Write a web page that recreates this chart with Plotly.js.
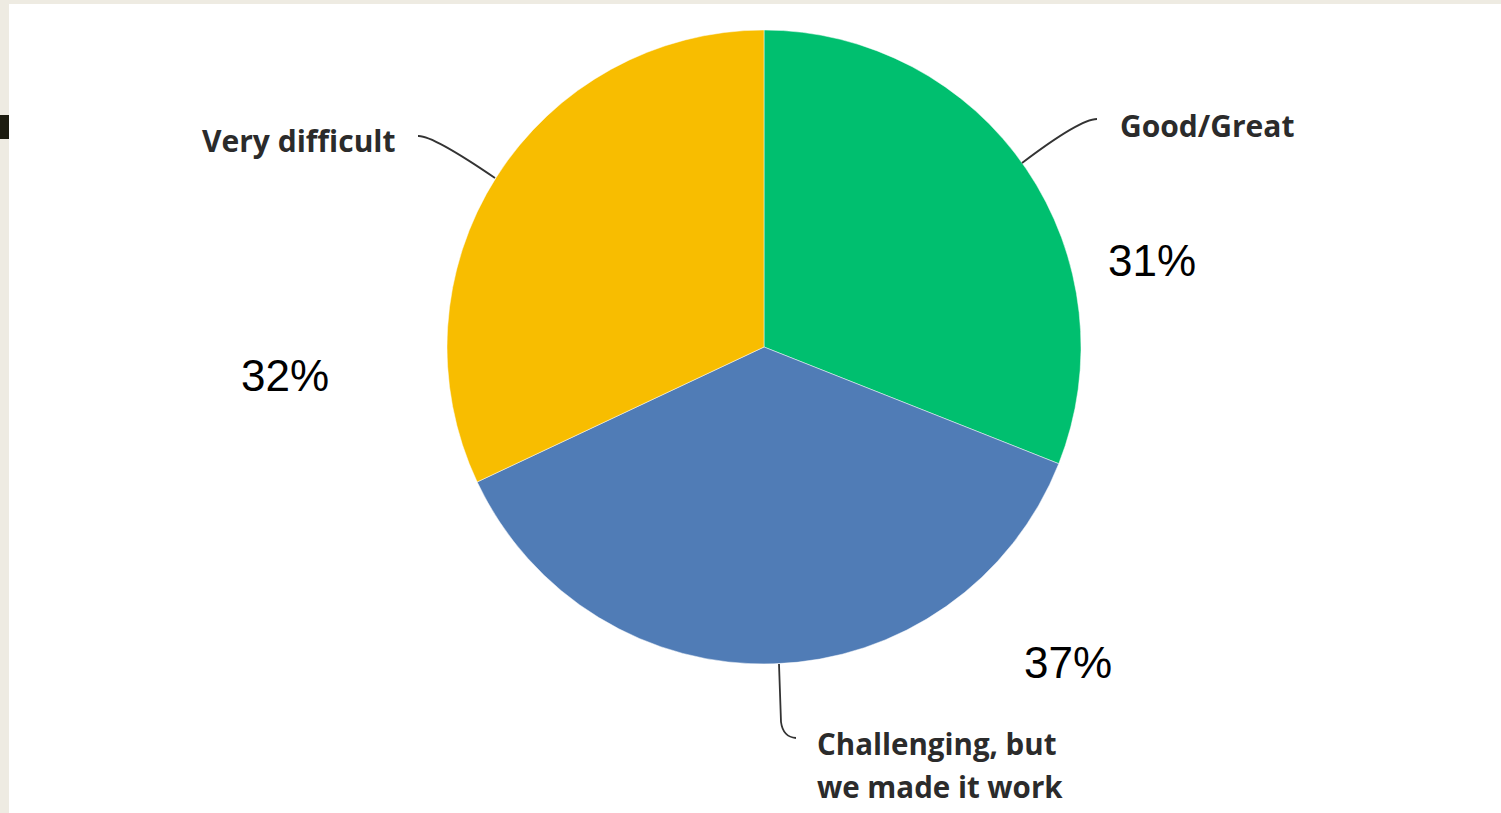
<!DOCTYPE html>
<html>
<head>
<meta charset="utf-8">
<script src="https://cdn.plot.ly/plotly-3.0.1.min.js"></script>
<style>
html,body{margin:0;padding:0;background:#fff;}
#chart{width:1501px;height:813px;}
</style>
</head>
<body>
<div id="chart"></div>
<script>
// Data
var categories = ["Good/Great", "Challenging, but<br>we made it work", "Very difficult"];
var values = [31, 37, 32];
var colors = ["#00bf6f", "#507cb6", "#f8bd00"];

var W = 1501, H = 813;
function px(x){ return x / W; }
function py(y){ return 1 - y / H; }

// label layout (pixel positions): first line centre y, line step
var labelPos = [
  {x: 1118, y: 125, anchor: "left"},
  {x: 815, y: 743, anchor: "left"},
  {x: 398, y: 140, anchor: "right"}
];
var lineStep = 43;
var pctPos = [
  {x: 1152, y: 260},
  {x: 1068, y: 662},
  {x: 285, y: 375}
];
var leaderPaths = [
  [[1097,119],[1080,119],[1022,163]],
  [[779,664],[781,722],[783,737],[796,738]],
  [[418,136],[432,135],[495,178]]
];

var annotations = [];
for (var i = 0; i < categories.length; i++) {
  var lines = categories[i].split("<br>");
  for (var k = 0; k < lines.length; k++) {
    annotations.push({
      xref: "paper", yref: "paper",
      x: px(labelPos[i].x), y: py(labelPos[i].y + k * lineStep),
      xanchor: labelPos[i].anchor, yanchor: "middle",
      align: "left",
      text: "<b>" + lines[k] + "</b>",
      showarrow: false,
      font: {family: "Open Sans", size: lines.length > 1 ? 29.5 : 30, color: "#2b2b2b"}
    });
  }
  annotations.push({
    xref: "paper", yref: "paper",
    x: px(pctPos[i].x), y: py(pctPos[i].y),
    xanchor: "center", yanchor: "middle",
    text: values[i] + "%",
    showarrow: false,
    font: {family: "Liberation Sans", size: 44, color: "#000000"}
  });
}

function pathStr(pts){
  var s = "M " + px(pts[0][0]) + "," + py(pts[0][1]);
  if (pts.length === 3) {
    s += " Q " + px(pts[1][0]) + "," + py(pts[1][1]) + " " + px(pts[2][0]) + "," + py(pts[2][1]);
  } else {
    s += " L " + px(pts[1][0]) + "," + py(pts[1][1]);
    s += " Q " + px(pts[2][0]) + "," + py(pts[2][1]) + " " + px(pts[3][0]) + "," + py(pts[3][1]);
  }
  return s;
}

var shapes = [
  {type: "rect", xref: "paper", yref: "paper", x0: 0, x1: px(9), y0: 0, y1: 1, fillcolor: "#eeebe2", line: {width: 0}, layer: "above"},
  {type: "rect", xref: "paper", yref: "paper", x0: 0, x1: 1, y0: py(4), y1: 1, fillcolor: "#eeebe2", line: {width: 0}, layer: "above"},
  {type: "rect", xref: "paper", yref: "paper", x0: 0, x1: px(9), y0: py(139), y1: py(115), fillcolor: "#1d1c10", line: {width: 0}, layer: "above"}
];
leaderPaths.forEach(function(p){
  shapes.push({type: "path", xref: "paper", yref: "paper", path: pathStr(p), line: {color: "#333333", width: 1.8}, layer: "above"});
});

var cx = 764, cy = 347, r = 317;
var trace = {
  type: "pie",
  labels: categories,
  values: values,
  sort: false,
  direction: "clockwise",
  rotation: 0,
  textinfo: "none",
  hoverinfo: "label+percent",
  marker: {colors: colors, line: {color: "rgba(255,255,255,0.6)", width: 0.8}},
  domain: {x: [px(cx - r), px(cx + r)], y: [py(cy + r), py(cy - r)]},
  showlegend: false
};

var layout = {
  width: W, height: H,
  margin: {l: 0, r: 0, t: 0, b: 0},
  paper_bgcolor: "#ffffff",
  plot_bgcolor: "#ffffff",
  showlegend: false,
  annotations: annotations,
  shapes: shapes
};

Plotly.newPlot("chart", [trace], layout, {displayModeBar: false, staticPlot: true});
</script>
</body>
</html>
